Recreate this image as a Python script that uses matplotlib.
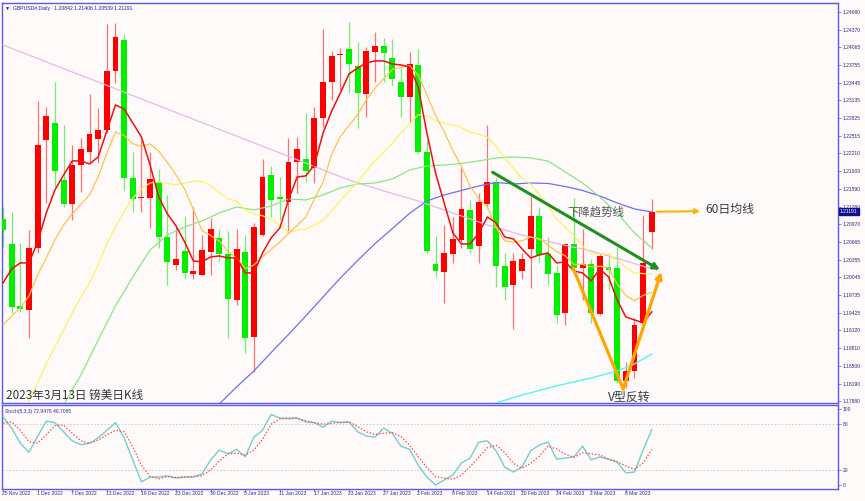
import numpy as np
import matplotlib
matplotlib.use('Agg')
import matplotlib.pyplot as plt
from matplotlib.transforms import blended_transform_factory

# ---- daily bars GBPUSD, 25 Nov 2022 .. 13 Mar 2023 ----
opens = [1.21064, 1.20622, 1.19546, 1.19476, 1.20552, 1.22443, 1.22734, 1.21745, 1.21326, 1.22007,
         1.22228, 1.22460, 1.22617, 1.23647, 1.24188, 1.21774, 1.21425, 1.21425, 1.21716, 1.20756,
         1.20261, 1.20512, 1.20110, 1.20087, 1.20494, 1.20738, 1.20453, 1.19651, 1.20483, 1.18999,
         1.20785, 1.21832, 1.21454, 1.21355, 1.22065, 1.22105, 1.21948, 1.22833, 1.23461, 1.23920,
         1.24025, 1.23740, 1.23240, 1.23973, 1.24083, 1.23868, 1.23461, 1.23199, 1.23752, 1.22239,
         1.20279, 1.20145, 1.20453, 1.20698, 1.21221, 1.20593, 1.21326, 1.21704, 1.20244, 1.19912,
         1.20163, 1.20535, 1.21122, 1.20453, 1.20116, 1.19418, 1.20628, 1.20203, 1.20279, 1.19406,
         1.20232, 1.20215, 1.18237, 1.18417, 1.19244, 1.20842]
highs = [1.21279, 1.21192, 1.20640, 1.20872, 1.23129, 1.23025, 1.23461, 1.22705, 1.22356, 1.22472,
         1.23240, 1.23007, 1.24461, 1.24490, 1.24287, 1.22239, 1.22443, 1.22239, 1.21931, 1.21483,
         1.20930, 1.21117, 1.21268, 1.20785, 1.21076, 1.20884, 1.20855, 1.20884, 1.20785, 1.20989,
         1.22105, 1.21995, 1.21803, 1.22484, 1.22501, 1.22908, 1.23025, 1.24380, 1.24002, 1.24054,
         1.24508, 1.24159, 1.24072, 1.24322, 1.24217, 1.24200, 1.23723, 1.23973, 1.24031, 1.22443,
         1.20768, 1.20959, 1.21105, 1.21948, 1.21396, 1.21512, 1.22705, 1.21803, 1.20465, 1.20465,
         1.20465, 1.21466, 1.21279, 1.20744, 1.20261, 1.20651, 1.21425, 1.20884, 1.20360, 1.20465,
         1.20465, 1.20581, 1.18574, 1.19331, 1.21134, 1.21406]
lows = [1.20581, 1.19418, 1.19447, 1.18982, 1.20465, 1.21338, 1.21628, 1.21279, 1.21047, 1.21541,
        1.22036, 1.22036, 1.22559, 1.23443, 1.21559, 1.21192, 1.21192, 1.20901, 1.20552, 1.19912,
        1.20174, 1.20011, 1.20011, 1.20081, 1.20087, 1.20337, 1.18982, 1.19563, 1.18720, 1.18400,
        1.20768, 1.21105, 1.21047, 1.20814, 1.21512, 1.21716, 1.21698, 1.22676, 1.23141, 1.23315,
        1.23257, 1.22646, 1.22850, 1.23461, 1.23461, 1.23385, 1.22850, 1.22734, 1.22200, 1.20465,
        1.20046, 1.19593, 1.20291, 1.20552, 1.20465, 1.20291, 1.21291, 1.19883, 1.19651, 1.19139,
        1.20011, 1.19854, 1.20320, 1.19912, 1.19255, 1.19214, 1.20186, 1.19651, 1.19244, 1.19389,
        1.19825, 1.18200, 1.18109, 1.18284, 1.19127, 1.20539]
closes = [1.20872, 1.19534, 1.19488, 1.20552, 1.22356, 1.22867, 1.21908, 1.21326, 1.22007, 1.22286,
          1.22548, 1.22617, 1.23653, 1.24234, 1.21774, 1.21413, 1.21442, 1.21756, 1.20756, 1.20320,
          1.20360, 1.20128, 1.20157, 1.20523, 1.20884, 1.20453, 1.19662, 1.20535, 1.18982, 1.20930,
          1.21803, 1.21396, 1.21407, 1.22065, 1.22280, 1.21908, 1.22833, 1.23461, 1.23915, 1.23938,
          1.23769, 1.23269, 1.24002, 1.24083, 1.23955, 1.23502, 1.23199, 1.23769, 1.22239, 1.20512,
          1.20163, 1.20465, 1.20709, 1.21233, 1.20535, 1.21355, 1.21704, 1.20250, 1.19872, 1.20331,
          1.20372, 1.21122, 1.20436, 1.20104, 1.19389, 1.20628, 1.20203, 1.20279, 1.19418, 1.20424,
          1.20174, 1.18237, 1.18417, 1.19214, 1.20291, 1.21191]

date_labels = ['25 Nov 2022', '1 Dec 2022', '7 Dec 2022', '13 Dec 2022', '19 Dec 2022',
               '23 Dec 2022', '30 Dec 2022', '5 Jan 2023', '11 Jan 2023', '17 Jan 2023',
               '23 Jan 2023', '27 Jan 2023', '2 Feb 2023', '8 Feb 2023', '14 Feb 2023',
               '20 Feb 2023', '24 Feb 2023', '2 Mar 2023', '8 Mar 2023']
date_idx = [0, 4, 8, 12, 16, 20, 24, 28, 32, 36, 40, 44, 48, 52, 56, 60, 64, 68, 72]

# ---- moving averages ----
ma5 = [1.19948, 1.20192, 1.20297, 1.20297, 1.20663, 1.21169, 1.21570, 1.21832, 1.22077, 1.22077,
       1.22024, 1.22146, 1.22600, 1.23054, 1.22984, 1.22740, 1.22495, 1.22007, 1.21448, 1.21152,
       1.20942, 1.20663, 1.20332, 1.20314, 1.20401, 1.20419, 1.20384, 1.20384, 1.20122, 1.20122,
       1.20471, 1.20733, 1.20907, 1.21396, 1.21797, 1.21815, 1.22007, 1.22565, 1.22949, 1.23263,
       1.23595, 1.23699, 1.23787, 1.23822, 1.23822, 1.23769, 1.23752, 1.23717, 1.23368, 1.22565,
       1.21867, 1.21344, 1.20820, 1.20628, 1.20628, 1.20820, 1.21099, 1.20995, 1.20750, 1.20715,
       1.20541, 1.20384, 1.20436, 1.20471, 1.20297, 1.20314, 1.20157, 1.20122, 1.19983, 1.20192,
       1.20052, 1.19651, 1.19354, 1.19302, 1.19250, 1.19442]
ma10 = [1.19214, 1.19371, 1.19511, 1.19720, 1.20087, 1.20383, 1.20698, 1.20959, 1.21151, 1.21320,
        1.21487, 1.21796, 1.22212, 1.22580, 1.22522, 1.22377, 1.22330, 1.22373, 1.22248, 1.22051,
        1.21833, 1.21584, 1.21234, 1.20863, 1.20774, 1.20678, 1.20500, 1.20378, 1.20200, 1.20261,
        1.20406, 1.20533, 1.20658, 1.20812, 1.20951, 1.21097, 1.21414, 1.21707, 1.22200, 1.22501,
        1.22697, 1.22885, 1.23144, 1.23346, 1.23513, 1.23673, 1.23709, 1.23740, 1.23573, 1.23230,
        1.22869, 1.22589, 1.22260, 1.21975, 1.21633, 1.21418, 1.21268, 1.20917, 1.20680, 1.20662,
        1.20683, 1.20748, 1.20721, 1.20608, 1.20494, 1.20421, 1.20271, 1.20274, 1.20228, 1.20238,
        1.20218, 1.19929, 1.19727, 1.19638, 1.19729, 1.19785]
ma20_idx = list(range(2, 76))
ma20 = [1.17556, 1.17888, 1.18202, 1.18533, 1.18830, 1.19127, 1.19424, 1.19703,
        1.19947, 1.20261, 1.20628, 1.20924, 1.21186, 1.21431, 1.21588, 1.21692, 1.21710,
        1.21685, 1.21660, 1.21690, 1.21723, 1.21722, 1.21648, 1.21527, 1.21415, 1.21375, 1.21224,
        1.21156, 1.21119, 1.21058, 1.20946, 1.20837, 1.20863, 1.20887, 1.20957, 1.21042, 1.21200,
        1.21381, 1.21551, 1.21709, 1.21901, 1.22079, 1.22232, 1.22385, 1.22562, 1.22723, 1.22886,
        1.22865, 1.22783, 1.22737, 1.22702, 1.22660, 1.22573, 1.22545, 1.22489, 1.22328, 1.22126,
        1.21946, 1.21776, 1.21669, 1.21490, 1.21291, 1.21063, 1.20919, 1.20770, 1.20595, 1.20454,
        1.20450, 1.20450, 1.20339, 1.20224, 1.20123, 1.20111, 1.20103]
ma30_idx = list(range(7, 76, 2))
ma30 = [1.17818, 1.18341, 1.18952, 1.19546, 1.20052, 1.20523, 1.20785, 1.20924, 1.21029, 1.21169,
        1.21273, 1.21221, 1.21291, 1.21413, 1.21396, 1.21483, 1.21605, 1.21675, 1.21692, 1.21762,
        1.21919, 1.21989, 1.22006, 1.22033, 1.22076, 1.22129, 1.22146, 1.22129, 1.22076, 1.21884,
        1.21692, 1.21448, 1.21169, 1.20820, 1.20558]
ma60_idx = list(range(25, 76, 2))
ma60 = [1.17835, 1.18132, 1.18411, 1.18734, 1.19048, 1.19371, 1.19703, 1.20034, 1.20340, 1.20633,
        1.20895, 1.21162, 1.21378, 1.21483, 1.21561, 1.21640, 1.21701, 1.21675, 1.21692, 1.21684,
        1.21631, 1.21561, 1.21465, 1.21343, 1.21239, 1.21186]
ma120_idx = [56, 57, 60, 64, 68, 71, 73, 75]
ma120 = [1.17800, 1.17853, 1.17992, 1.18150, 1.18289, 1.18411, 1.18533, 1.18708]
ma250_idx = [0, 4, 8, 12, 16, 20, 24, 28, 32, 36, 40, 44, 48, 52, 56, 60, 64, 68, 72, 75]
ma250 = [1.24100, 1.23865, 1.23629, 1.23395, 1.23158, 1.22922, 1.22687, 1.22451, 1.22216, 1.21980,
         1.21744, 1.21553, 1.21378, 1.21168, 1.20959, 1.20784, 1.20636, 1.20505, 1.20331, 1.20191]

# ---- Stochastic(5,3,3) ----
stoch_k = [89.5, 75, 55, 43, 64, 84, 82, 70, 58, 53,
           55, 62, 72, 82, 62, 33, 4, 10.5, 10.5, 12,
           9, 10.5, 10.5, 14.5, 33, 46, 41, 47, 37, 63,
           72, 93, 88, 87, 88, 83, 82, 76, 84, 82,
           83, 70, 64.5, 63, 75, 68, 51, 47, 26, 10.5,
           0, 6.5, 13, 29, 35.5, 56.5, 58, 45, 23.5, 17,
           23.5, 45, 52.5, 56.5, 34, 35.5, 37, 51, 33, 37,
           34, 30, 16, 17, 46, 72.9478]
stoch_d = [81.5, 83, 72, 57, 55, 66, 78, 79, 68, 58,
           55, 59, 66, 72, 70, 50, 26, 11, 8, 11,
           10, 10.5, 11, 12, 20, 31.5, 41, 42, 39.5, 46,
           60, 80, 87, 88.5, 88, 84.5, 82, 80, 81, 82.5,
           83, 77, 70, 66.5, 68, 69, 63.5, 52.5, 37, 23,
           11, 9, 7.5, 13, 24, 36.5, 49, 52.5, 42.5, 28.5,
           22, 28.5, 38, 51, 47.5, 40.5, 36.5, 42.5, 41, 39.5,
           34, 30.5, 25, 20.5, 29, 46.7065]

price_ticks = [1.24680, 1.24370, 1.24065, 1.23755, 1.23445, 1.23135, 1.22825, 1.22515, 1.22210,
               1.21900, 1.21590, 1.21280, 1.20970, 1.20665, 1.20355, 1.20045, 1.19735, 1.19425,
               1.19120, 1.18810, 1.18500, 1.18190, 1.17880]
stoch_ticks = [0, 20, 80, 100]

BG = '#fffafa'
FRAME = '#5a5ae6'
TXT = '#2a2a88'
CJK = ['Noto Sans CJK SC', 'DejaVu Sans']
SMALL = ['Liberation Sans', 'DejaVu Sans']

W, H = 865, 501
fig = plt.figure(figsize=(W / 100, H / 100), dpi=100, facecolor=BG)
ax1 = fig.add_axes([2 / W, (H - 403) / H, 836 / W, 400 / H], facecolor=BG)
ax2 = fig.add_axes([2 / W, (H - 489) / H, 836 / W, 84 / H], facecolor=BG)

x = np.arange(len(opens))
o = np.array(opens)
h = np.array(highs)
l = np.array(lows)
c = np.array(closes)
up = c >= o

# candles (red = up, green = down)
ax1.vlines(x[up], l[up], h[up], color='#ff7070', lw=0.9, zorder=2)
ax1.vlines(x[~up], l[~up], h[~up], color='#70f070', lw=0.9, zorder=2)
body = np.maximum(np.abs(c - o), 0.00012)
bottom = np.minimum(o, c)
ax1.bar(x[up], body[up], bottom=bottom[up], width=0.68, color='#ff0000', lw=0, zorder=3)
ax1.bar(x[~up], body[~up], bottom=bottom[~up], width=0.68, color='#00f000', lw=0, zorder=3)

# moving averages
ax1.plot(ma250_idx, ma250, color='#e8b8e8', lw=0.9, zorder=4)
ax1.plot(ma120_idx, ma120, color='#55f5f5', lw=1.0, zorder=4)
ax1.plot(ma60_idx, ma60, color='#6f6ff2', lw=0.9, zorder=4)
ax1.plot(ma30_idx, ma30, color='#86e886', lw=0.9, zorder=4)
ax1.plot(ma20_idx, ma20, color='#fff060', lw=0.9, zorder=4)
ax1.plot(x, ma10, color='#ffc24a', lw=0.9, zorder=4)
ax1.plot(x, ma5, color='#ee1010', lw=1.1, zorder=5)

ax1.set_xlim(-0.12, 96.53)
ax1.set_ylim(1.17852, 1.24833)

# annotations
ax1.annotate('', xy=(75.95, 1.20174), xytext=(56.6, 1.21879),
             arrowprops=dict(arrowstyle='-|>', color='#1f8f1f', lw=2.2,
                             mutation_scale=9, shrinkA=0, shrinkB=0), zorder=6)
ax1.plot([65.9, 71.7], [1.20208, 1.18097], color='#ffa500', lw=2.3,
         solid_capstyle='round', zorder=6)
ax1.annotate('', xy=(76.1, 1.20139), xytext=(71.7, 1.18097),
             arrowprops=dict(arrowstyle='-|>', color='#ffa500', lw=2.3,
                             mutation_scale=9, shrinkA=0, shrinkB=0), zorder=6)
ax1.annotate('', xy=(80.6, 1.21200), xytext=(75.6, 1.21191),
             arrowprops=dict(arrowstyle='-|>', color='#ffb400', lw=1.5,
                             mutation_scale=7, shrinkA=0, shrinkB=0), zorder=6)

ax1.text(81.2, 1.21238, '60日均线', family=CJK, fontsize=8.6, color='#3a3a3a',
         va='center', ha='left', zorder=7)
ax1.text(65.2, 1.21186, '下降趋势线', family=CJK, fontsize=8.2, color='#555555',
         va='center', ha='left', zorder=7)
ax1.text(69.9, 1.17957, 'V型反转', family=CJK, fontsize=8.6, color='#3a3a3a',
         va='center', ha='left', zorder=7)
ax1.text(0.35, 1.17992, '2023年3月13日 镑美日K线', family=CJK, fontsize=8.4,
         color='#333333', va='center', ha='left', zorder=7)

ax1.text(0.004, 0.992, '\u25bc  GBPUSD#,Daily   1.20842 1.21406 1.20539 1.21191',
         transform=ax1.transAxes, family=SMALL, fontsize=3.7, color='#1e1e90',
         va='top', ha='left', zorder=7)

# price axis on the right
ax1.set_xticks([])
ax1.set_yticks(price_ticks)
ax1.set_yticklabels(['%.5f' % v for v in price_ticks], family=SMALL)
ax1.tick_params(axis='y', left=False, labelleft=False, right=True, labelright=True,
                length=2, width=0.5, pad=1.5, labelsize=3.6, color=FRAME, labelcolor=TXT)
ax1.annotate('1.21191', xy=(1, 1.21191), xycoords=('axes fraction', 'data'),
             xytext=(1.5, 0), textcoords='offset points', family=SMALL, fontsize=3.6,
             color='white', va='center', ha='left', annotation_clip=False, zorder=8,
             bbox=dict(boxstyle='square,pad=0.25', fc='#10108a', ec='#10108a'))

# stochastic panel
ax2.axhline(80, color='#c8c8c8', lw=0.7, ls=(0, (1.5, 2)), zorder=1)
ax2.axhline(20, color='#c8c8c8', lw=0.7, ls=(0, (1.5, 2)), zorder=1)
ax2.plot(x, stoch_k, color='#6fcfcf', lw=1.0, zorder=3)
ax2.plot(x, stoch_d, color='#ff4a4a', lw=0.9, ls=(0, (1.2, 1.4)), zorder=3)
ax2.set_xlim(-0.12, 96.53)
ax2.set_ylim(-5.3, 105.3)
ax2.text(0.004, 0.95, 'Stoch(5,3,3) 72.9478 46.7065', transform=ax2.transAxes,
         family=SMALL, fontsize=3.6, color='#2a2aa0', va='top', ha='left')

ax2.set_yticks(stoch_ticks)
ax2.set_yticklabels([str(v) for v in stoch_ticks], family=SMALL)
ax2.tick_params(axis='y', left=False, labelleft=False, right=True, labelright=True,
                length=2, width=0.5, pad=1.5, labelsize=3.6, color=FRAME, labelcolor=TXT)
ax2.set_xticks(date_idx)
ax2.set_xticklabels([])
ax2.tick_params(axis='x', length=2, width=0.5, color=FRAME, direction='out')
trans = blended_transform_factory(ax2.transData, ax2.transAxes)
for i, lab in zip(date_idx, date_labels):
    ax2.annotate(lab, xy=(i, 0), xycoords=trans, xytext=(-0.6, -3.2),
                 textcoords='offset points', family=SMALL, fontsize=3.6, color=TXT,
                 va='center', ha='left', annotation_clip=False)

for ax in (ax1, ax2):
    for s in ax.spines.values():
        s.set_color(FRAME)
        s.set_linewidth(1.0)

fig.savefig('out.png', dpi=100, facecolor=BG)
